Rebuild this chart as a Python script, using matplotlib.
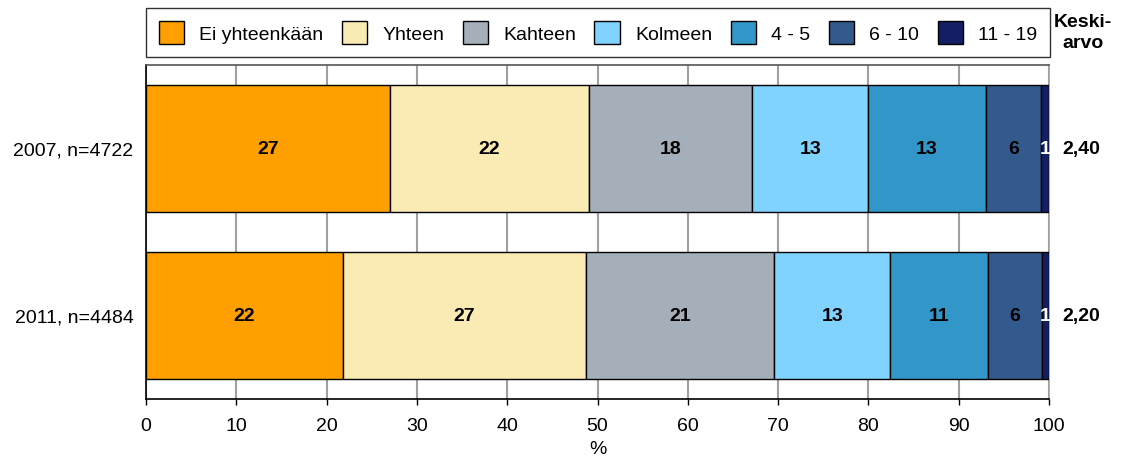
import matplotlib
matplotlib.use("Agg")
import matplotlib.pyplot as plt
from matplotlib.patches import Patch
from matplotlib.transforms import blended_transform_factory

plt.rcParams['font.family'] = ['Liberation Sans', 'DejaVu Sans']

rows = ["2007, n=4722", "2011, n=4484"]
categories = ["Ei yhteenkään", "Yhteen", "Kahteen", "Kolmeen", "4 - 5", "6 - 10", "11 - 19"]
values_2007 = [27.0, 22.1, 18.0, 12.9, 13.0, 6.1, 0.9]
values_2011 = [21.8, 26.9, 20.9, 12.8, 10.8, 6.0, 0.8]
labels_2007 = ["27", "22", "18", "13", "13", "6", "1"]
labels_2011 = ["22", "27", "21", "13", "11", "6", "1"]
means = ["2,40", "2,20"]
colors = ["#FF9F00", "#FAEBB4", "#A5AFBA", "#80D2FF", "#3296C8", "#325A8C", "#141E64"]
text_colors = ["black", "black", "black", "black", "black", "black", "white"]

data = [values_2007, values_2011]
labels = [labels_2007, labels_2011]

fig = plt.figure(figsize=(11.25, 4.6), dpi=100)
ax = fig.add_axes([146/1125, 1-400/460, 903/1125, 334/460])

fs = 14
for i, (vals, labs) in enumerate(zip(data, labels)):
    left = 0.0
    for j, v in enumerate(vals):
        ax.barh(i, v, left=left, height=0.764, color=colors[j], edgecolor="black",
                linewidth=1.0, zorder=3)
        ax.text(left + v/2, i, labs[j], ha="center", va="center", fontsize=fs,
                fontweight="bold", color=text_colors[j], zorder=4)
        left += v

trans = blended_transform_factory(ax.transAxes, ax.transData)
for i, m in enumerate(means):
    ax.text(1.0355, i, m, transform=trans, ha="center", va="center", fontsize=fs,
            fontweight="bold", clip_on=False)

ax.set_xlim(0, 100)
ax.set_ylim(1.5, -0.5)
ax.set_xticks(range(0, 101, 10))
ax.set_yticks([0, 1])
ax.set_yticklabels(rows, fontsize=fs)
ax.tick_params(axis="y", length=0, pad=9)
ax.tick_params(axis="x", length=4, width=1, color="black", pad=9, labelsize=fs)
ax.set_xlabel("%", fontsize=fs, labelpad=4)
ax.xaxis.grid(True, color="#A0A0A0", linewidth=1.5, zorder=0)
ax.set_axisbelow(True)
for s in ["left", "bottom"]:
    ax.spines[s].set_color("black")
    ax.spines[s].set_linewidth(1.2)
ax.spines["top"].set_color("#555555")
ax.spines["top"].set_linewidth(1.2)
ax.spines["right"].set_color("#A0A0A0")
ax.spines["right"].set_linewidth(1.2)

handles = [Patch(facecolor=c, edgecolor="black", linewidth=1.0) for c in colors]
leg = fig.legend(handles, categories, ncol=7, loc="center",
                 bbox_to_anchor=(146/1125, 1-58/460, 904/1125, 49/460),
                 mode="expand", fontsize=fs, frameon=True, fancybox=False,
                 handlelength=1.29, handleheight=1.44, handletextpad=0.8,
                 columnspacing=0.7, borderpad=0.65, borderaxespad=0)
leg.get_frame().set_edgecolor("black")
leg.get_frame().set_linewidth(1.0)

fig.text(1083/1125, 1-33/460, "Keski-\narvo", ha="center", va="center",
         fontsize=fs, fontweight="bold", linespacing=1.35)

fig.savefig("out.png", dpi=100)
